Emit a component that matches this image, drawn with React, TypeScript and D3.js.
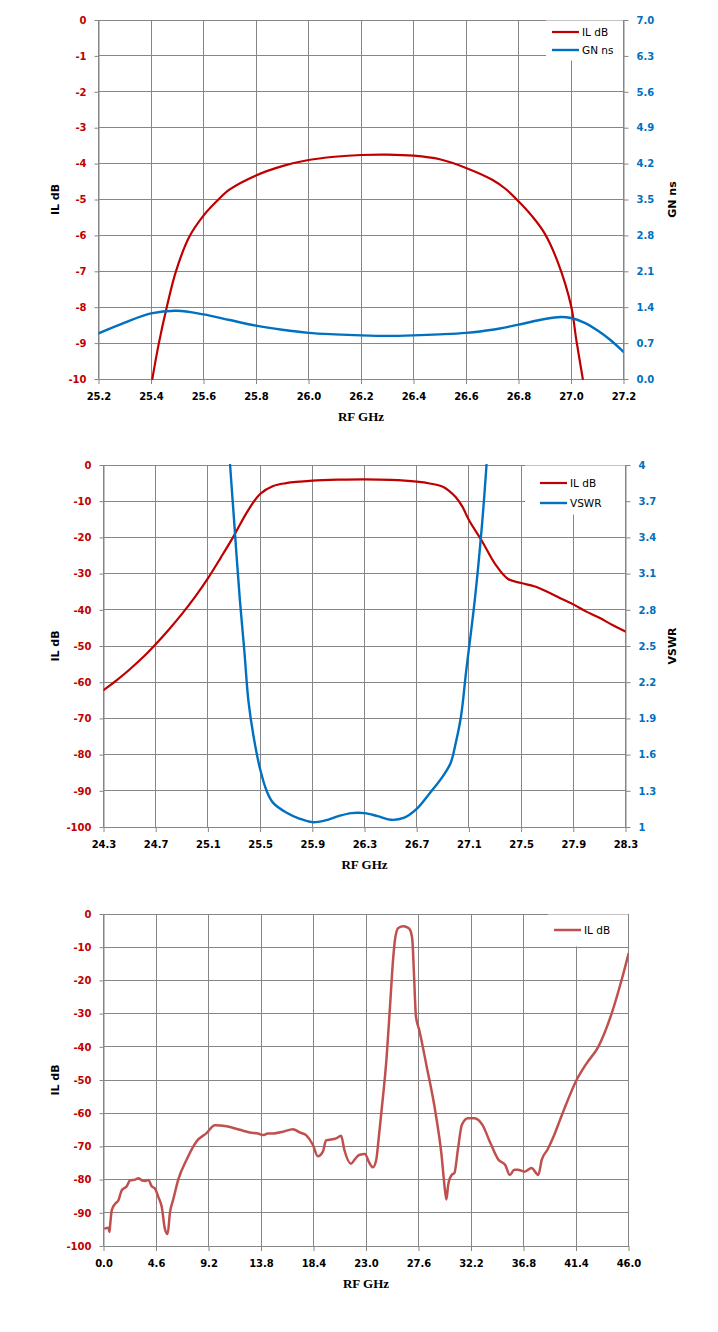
import React, { useRef, useEffect } from 'react';
import * as d3 from 'd3';

// ---- chart 1: passband, IL and group delay ----
const il1Freq = [25.405, 25.43, 25.46, 25.495, 25.545, 25.6, 25.65, 25.7, 25.8, 25.9, 26.0, 26.1, 26.2, 26.3, 26.4, 26.5, 26.6, 26.7, 26.75, 26.8, 26.85, 26.9, 26.95, 27.0, 27.02, 27.045];
const il1Db = [-10, -9, -8, -7, -6.05, -5.45, -5.05, -4.72, -4.33, -4.07, -3.9, -3.81, -3.76, -3.75, -3.78, -3.88, -4.12, -4.45, -4.7, -5.05, -5.45, -5.95, -6.75, -7.95, -8.9, -10];
const gn1Freq = [25.2, 25.3, 25.4, 25.5, 25.6, 25.7, 25.8, 25.9, 26.0, 26.1, 26.2, 26.3, 26.4, 26.5, 26.6, 26.7, 26.8, 26.9, 26.96, 27.0, 27.05, 27.1, 27.15, 27.2];
const gn1Ns = [0.89, 1.1, 1.28, 1.33, 1.26, 1.15, 1.04, 0.96, 0.9, 0.87, 0.85, 0.84, 0.85, 0.87, 0.9, 0.96, 1.06, 1.17, 1.21, 1.19, 1.1, 0.95, 0.76, 0.53];
const x1Ticks = [25.2, 25.4, 25.6, 25.8, 26.0, 26.2, 26.4, 26.6, 26.8, 27.0, 27.2];
const y1Ticks = [0, -1, -2, -3, -4, -5, -6, -7, -8, -9, -10];
const r1Ticks = [0, 0.7, 1.4, 2.1, 2.8, 3.5, 4.2, 4.9, 5.6, 6.3, 7.0];

// ---- chart 2: wider span, IL and VSWR ----
const il2Freq = [24.3, 24.4, 24.5, 24.6, 24.7, 24.8, 24.9, 25.0, 25.1, 25.2, 25.3, 25.4, 25.5, 25.6, 25.7, 25.8, 25.9, 26.1, 26.3, 26.5, 26.7, 26.8, 26.9, 26.95, 27.0, 27.05, 27.1, 27.2, 27.3, 27.4, 27.5, 27.6, 27.7, 27.8, 27.9, 28.0, 28.1, 28.2, 28.3];
const il2Db = [-62.2, -59.5, -56.5, -53.2, -49.5, -45.5, -41.2, -36.5, -31.3, -25.5, -19.5, -13, -8, -5.8, -5, -4.6, -4.3, -4.05, -3.95, -4.1, -4.6, -5.1, -6.0, -7.2, -8.9, -11.5, -15.2, -21, -27.3, -31.5, -32.6, -33.5, -35, -36.8, -38.5, -40.5, -42.2, -44.2, -46];
const vswrFreq = [25.27, 25.3, 25.345, 25.38, 25.41, 25.45, 25.5, 25.55, 25.6, 25.7, 25.8, 25.9, 26.0, 26.1, 26.2, 26.3, 26.4, 26.5, 26.6, 26.7, 26.8, 26.9, 26.96, 27.0, 27.04, 27.08, 27.145, 27.2, 27.235];
const vswr = [4.0, 3.55, 2.88, 2.45, 2.05, 1.75, 1.48, 1.3, 1.2, 1.12, 1.07, 1.04, 1.055, 1.09, 1.115, 1.115, 1.09, 1.06, 1.075, 1.15, 1.28, 1.42, 1.53, 1.7, 1.92, 2.3, 2.88, 3.5, 4.0];
const x2Ticks = [24.3, 24.7, 25.1, 25.5, 25.9, 26.3, 26.7, 27.1, 27.5, 27.9, 28.3];
const y2Ticks = [0, -10, -20, -30, -40, -50, -60, -70, -80, -90, -100];
const r2Ticks = [1, 1.3, 1.6, 1.9, 2.2, 2.5, 2.8, 3.1, 3.4, 3.7, 4];

// ---- chart 3: broadband IL ----
const il3Freq = [0.15, 0.44, 0.52, 0.6, 0.73, 1.02, 1.31, 1.6, 2.04, 2.33, 2.77, 3.06, 3.35, 3.65, 3.93, 4.22, 4.51, 4.8, 5.1, 5.39, 5.62, 5.82, 6.11, 6.55, 7.28, 8.15, 9.03, 9.75, 10.77, 11.94, 12.81, 13.6, 13.98, 14.4, 14.85, 15.7, 16.6, 17.2, 17.77, 18.34, 18.78, 19.22, 19.5, 20.38, 20.82, 21.1, 21.69, 22.0, 22.4, 22.9, 23.3, 23.6, 23.9, 24.1, 24.37, 24.81, 25.1, 25.39, 25.54, 25.83, 26.27, 26.6, 26.86, 27.06, 27.2, 27.38, 27.67, 28.32, 29.05, 29.6, 29.95, 30.05, 30.2, 30.5, 30.75, 31.05, 31.4, 31.93, 32.5, 33.2, 33.9, 34.6, 35.2, 35.6, 36.0, 36.3, 36.9, 37.5, 38.1, 38.4, 38.9, 39.5, 40.0, 40.34, 41.45, 42.33, 43.35, 44.52, 45.4, 46.0];
const il3Db = [-94.7, -94.5, -95.8, -93, -89.1, -87.3, -86.2, -83.2, -82, -80.2, -80, -79.6, -80.2, -80.4, -80.1, -82, -82.7, -85.2, -88.2, -95, -96.4, -90, -86, -80, -74, -68.5, -66, -63.6, -63.9, -65, -65.8, -66.2, -66.6, -66.1, -66.1, -65.6, -64.8, -65.8, -66.7, -69.5, -73, -71.6, -68.2, -67.6, -66.8, -71, -75.2, -74, -72.6, -72.3, -75, -76.3, -74, -68, -59, -43, -28, -13, -7.7, -4.2, -3.7, -4.0, -4.8, -7.8, -17.8, -31, -35, -46, -59, -72, -84, -86, -81.6, -78.6, -78, -71, -63.5, -61.5, -61.5, -63.5, -69, -74, -75.6, -78.6, -77, -77, -77.6, -76.5, -78.6, -74, -71, -66.5, -62, -59, -50, -45, -40, -30, -19.8, -12];
const x3Ticks = [0, 4.6, 9.2, 13.8, 18.4, 23.0, 27.6, 32.2, 36.8, 41.4, 46.0];
const y3Ticks = [0, -10, -20, -30, -40, -50, -60, -70, -80, -90, -100];

const RED = '#c00000';
const BLUE = '#0070c0';
const RED3 = '#c0504d';
const GRID = '#868686';
const SANS = "'DejaVu Sans', Verdana, sans-serif";
const SERIF = "'Liberation Serif', 'Times New Roman', serif";

const zip = (xs, ys) => xs.map((x, i) => [x, ys[i]]);

function drawPanel(svg, p, idx) {
  const x = d3.scaleLinear().domain(p.xDomain).range([p.left, p.right]);
  const y = d3.scaleLinear().domain(p.yDomain).range([p.bottom, p.top]);
  const yr = p.rDomain ? d3.scaleLinear().domain(p.rDomain).range([p.bottom, p.top]) : null;
  const g = svg.append('g');

  // grid
  g.selectAll('.vg').data(p.xTicks).enter().append('line')
    .attr('x1', (d) => x(d)).attr('x2', (d) => x(d))
    .attr('y1', p.top).attr('y2', p.bottom)
    .attr('stroke', GRID).attr('stroke-width', 1).attr('shape-rendering', 'crispEdges');
  g.selectAll('.hg').data(p.yTicks).enter().append('line')
    .attr('x1', p.left).attr('x2', p.right)
    .attr('y1', (d) => y(d)).attr('y2', (d) => y(d))
    .attr('stroke', GRID).attr('stroke-width', 1).attr('shape-rendering', 'crispEdges');

  const styleAxis = (a, color) => {
    a.select('.domain').attr('stroke', GRID);
    a.selectAll('.tick line').attr('stroke', GRID);
    a.selectAll('.tick text').attr('fill', color)
      .attr('font-family', SANS).attr('font-size', 10).attr('font-weight', 'bold');
  };

  const ax = g.append('g').attr('transform', `translate(0,${p.bottom})`)
    .call(d3.axisBottom(x).tickValues(p.xTicks).tickSize(5).tickSizeOuter(0).tickPadding(9)
      .tickFormat((d) => d.toFixed(1)));
  styleAxis(ax, '#000');

  const ay = g.append('g').attr('transform', `translate(${p.left},0)`)
    .call(d3.axisLeft(y).tickValues(p.yTicks).tickSize(4).tickSizeOuter(0).tickPadding(8)
      .tickFormat((d) => String(d)));
  styleAxis(ay, RED);

  if (yr) {
    const ar = g.append('g').attr('transform', `translate(${p.right},0)`)
      .call(d3.axisRight(yr).tickValues(p.rTicks).tickSize(5).tickSizeOuter(0).tickPadding(8)
        .tickFormat(p.rFormat));
    styleAxis(ar, BLUE);
  }

  // clip
  const cid = `clip${idx}`;
  svg.append('clipPath').attr('id', cid).append('rect')
    .attr('x', p.left).attr('y', p.top - 1)
    .attr('width', p.right - p.left).attr('height', p.bottom - p.top + 2);

  const plot = g.append('g').attr('clip-path', `url(#${cid})`);
  p.series.forEach((s) => {
    const sc = s.right ? yr : y;
    const line = d3.line().x((d) => x(d[0])).y((d) => sc(d[1])).curve(p.curve);
    plot.append('path').datum(s.data)
      .attr('d', line).attr('fill', 'none')
      .attr('stroke', s.color).attr('stroke-width', s.width)
      .attr('stroke-linejoin', 'round').attr('stroke-linecap', 'round');
  });

  // legend
  const lg = p.legend;
  g.append('rect').attr('x', lg.x).attr('y', p.top + 0.5)
    .attr('width', p.right - lg.x - 0.5).attr('height', lg.h).attr('fill', '#fff');
  p.series.forEach((s, i) => {
    const ly = lg.y0 + i * lg.dy;
    g.append('line').attr('x1', lg.lx).attr('x2', lg.lx + 27)
      .attr('y1', ly).attr('y2', ly)
      .attr('stroke', s.color).attr('stroke-width', s.width);
    g.append('text').attr('x', lg.lx + 30).attr('y', ly + 4)
      .attr('font-family', SANS).attr('font-size', 10.5).attr('fill', '#000')
      .text(s.name);
  });

  // axis titles
  g.append('text').attr('x', (p.left + p.right) / 2).attr('y', p.bottom + 42)
    .attr('text-anchor', 'middle').attr('font-family', SERIF)
    .attr('font-size', 13).attr('font-weight', 'bold').attr('fill', '#000')
    .text('RF  GHz');
  const midY = (p.top + p.bottom) / 2;
  g.append('text').attr('transform', `translate(59,${midY}) rotate(-90)`)
    .attr('text-anchor', 'middle').attr('font-family', SANS)
    .attr('font-size', 11).attr('font-weight', 'bold').attr('fill', '#000')
    .text('IL dB');
  if (p.rTitle) {
    g.append('text').attr('transform', `translate(676,${midY}) rotate(-90)`)
      .attr('text-anchor', 'middle').attr('font-family', SANS)
      .attr('font-size', 11).attr('font-weight', 'bold').attr('fill', '#000')
      .text(p.rTitle);
  }
}

function App() {
  const ref = useRef(null);

  useEffect(() => {
    const svg = d3.select(ref.current);
    svg.selectAll('*').remove();

    const smooth = d3.curveCatmullRom.alpha(0.5);
    const panels = [
      {
        left: 98.5, right: 623.5, top: 20, bottom: 379,
        xDomain: [25.2, 27.2], yDomain: [-10, 0], rDomain: [0, 7],
        xTicks: x1Ticks, yTicks: y1Ticks, rTicks: r1Ticks,
        rFormat: (d) => d.toFixed(1), rTitle: 'GN ns', curve: smooth,
        series: [
          { name: 'IL dB', data: zip(il1Freq, il1Db), color: RED, width: 2.2 },
          { name: 'GN ns', data: zip(gn1Freq, gn1Ns), color: BLUE, width: 2.4, right: true },
        ],
        legend: { x: 546, h: 40, lx: 552, y0: 32, dy: 18 },
      },
      {
        left: 103.5, right: 625.5, top: 465, bottom: 827,
        xDomain: [24.3, 28.3], yDomain: [-100, 0], rDomain: [1, 4],
        xTicks: x2Ticks, yTicks: y2Ticks, rTicks: r2Ticks,
        rFormat: (d) => String(+d.toFixed(1)), rTitle: 'VSWR', curve: smooth,
        series: [
          { name: 'IL dB', data: zip(il2Freq, il2Db), color: RED, width: 2.2 },
          { name: 'VSWR', data: zip(vswrFreq, vswr), color: BLUE, width: 2.4, right: true },
        ],
        legend: { x: 525, h: 49, lx: 540, y0: 483, dy: 20 },
      },
      {
        left: 103.5, right: 628.5, top: 914, bottom: 1246,
        xDomain: [0, 46], yDomain: [-100, 0], rDomain: null,
        xTicks: x3Ticks, yTicks: y3Ticks, curve: d3.curveMonotoneX,
        series: [
          { name: 'IL dB', data: zip(il3Freq, il3Db), color: RED3, width: 2.5 },
        ],
        legend: { x: 548, h: 32, lx: 554, y0: 930, dy: 20 },
      },
    ];

    panels.forEach((p, i) => drawPanel(svg, p, i));
  }, []);

  return (
    <svg
      ref={ref}
      width={718}
      height={1332}
      style={{ position: 'absolute', left: 0, top: 0, background: '#fff' }}
    />
  );
}

export default App;
